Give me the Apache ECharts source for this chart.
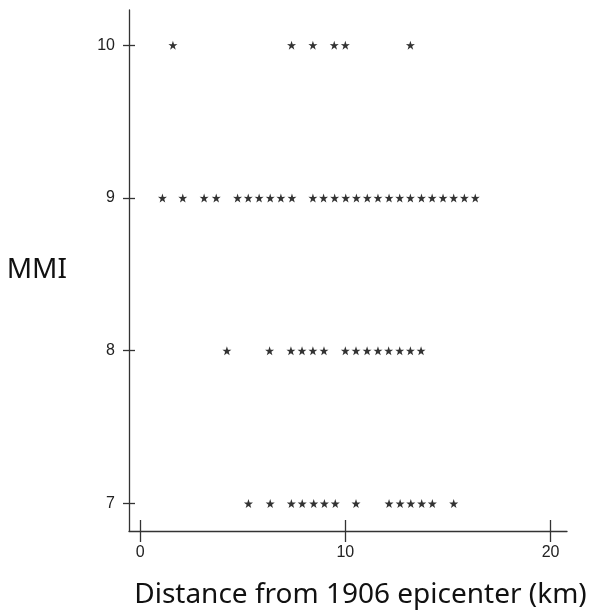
<!DOCTYPE html>
<html>
<head>
<meta charset="utf-8">
<script src="https://cdn.jsdelivr.net/npm/echarts@6/dist/echarts.min.js"></script>
<style>
  html, body { margin: 0; padding: 0; background: #fff; }
  #chart { width: 592px; height: 615px; }
</style>
</head>
<body>
<div id="chart"></div>
<script>
// distances (km) of the observations, one list per MMI level
let mmi10 = [1.6, 7.38, 8.42, 9.46, 10.0, 13.17];
let mmi9 = [1.09, 2.08, 3.12, 3.71, 4.75, 5.27, 5.8, 6.34, 6.86, 7.4,
    8.42, 8.94, 9.48, 10.02, 10.54, 11.07, 11.59, 12.13, 12.65, 13.17,
    13.71, 14.23, 14.76, 15.28, 15.8, 16.33];
let mmi8 = [4.23, 6.31, 7.35, 7.89, 8.42, 8.96, 10.0, 10.52, 11.06, 11.59,
    12.11, 12.65, 13.17, 13.69];
let mmi7 = [5.28, 6.34, 7.37, 7.9, 8.46, 8.98, 9.51, 10.52, 12.13, 12.67,
    13.19, 13.72, 14.24, 15.28];
let xTicks = [0, 10, 20];
let yTicks = [7, 8, 9, 10];

let levels = [[10, mmi10], [9, mmi9], [8, mmi8], [7, mmi7]];
let points = [];
levels.forEach(l => l[1].forEach(d => points.push([d, l[0]])));

let star = "path://M50,0 L61.8,35.1 L97.6,34.5 L69.1,56.9 L79.4,90.5 L50,70 L20.6,90.5 L30.9,56.9 L2.4,34.5 L38.2,35.1 Z";

let lineStyle = {color: "#333", width: 1.3};
let labelStyle = {color: "#222", fontSize: 16, fontFamily: "Liberation Sans"};

let chart = echarts.init(document.getElementById("chart"));
let option = {
    animation: false,
    grid: {left: 129, right: 25, top: 10, bottom: 84},
    xAxis: [
        {
            type: "value", min: -0.54, max: 20.8,
            splitLine: {show: false},
            axisLine: {onZero: false, lineStyle: lineStyle},
            axisTick: {customValues: xTicks, length: 11, lineStyle: lineStyle},
            axisLabel: {customValues: xTicks, margin: 14, ...labelStyle},
            name: "Distance from 1906 epicenter (km)",
            nameLocation: "middle",
            nameGap: 50,
            nameTextStyle: {fontSize: 28, color: "#111", fontFamily: "Noto Sans", padding: [0, 0, 0, 25]}
        },
        {
            type: "value", min: -0.54, max: 20.8, position: "bottom",
            splitLine: {show: false},
            axisLine: {show: false, onZero: false},
            axisTick: {customValues: xTicks, inside: true, length: 11, lineStyle: lineStyle},
            axisLabel: {show: false}
        }
    ],
    yAxis: [
        {
            type: "value", min: 6.82, max: 10.23,
            splitLine: {show: false},
            axisLine: {onZero: false, lineStyle: lineStyle},
            axisTick: {customValues: yTicks, length: 6, lineStyle: lineStyle},
            axisLabel: {customValues: yTicks, margin: 14, ...labelStyle},
            name: "MMI",
            nameLocation: "middle",
            nameRotate: 0,
            nameGap: 62,
            nameTextStyle: {fontSize: 28, color: "#111", fontFamily: "Noto Sans"}
        },
        {
            type: "value", min: 6.82, max: 10.23, position: "left",
            splitLine: {show: false},
            axisLine: {show: false, onZero: false},
            axisTick: {customValues: yTicks, inside: true, length: 6, lineStyle: lineStyle},
            axisLabel: {show: false}
        }
    ],
    series: [
        {
            type: "scatter",
            data: points,
            symbol: star,
            symbolSize: 9,
            itemStyle: {color: "#000"}
        }
    ]
};
chart.setOption(option);
</script>
</body>
</html>
